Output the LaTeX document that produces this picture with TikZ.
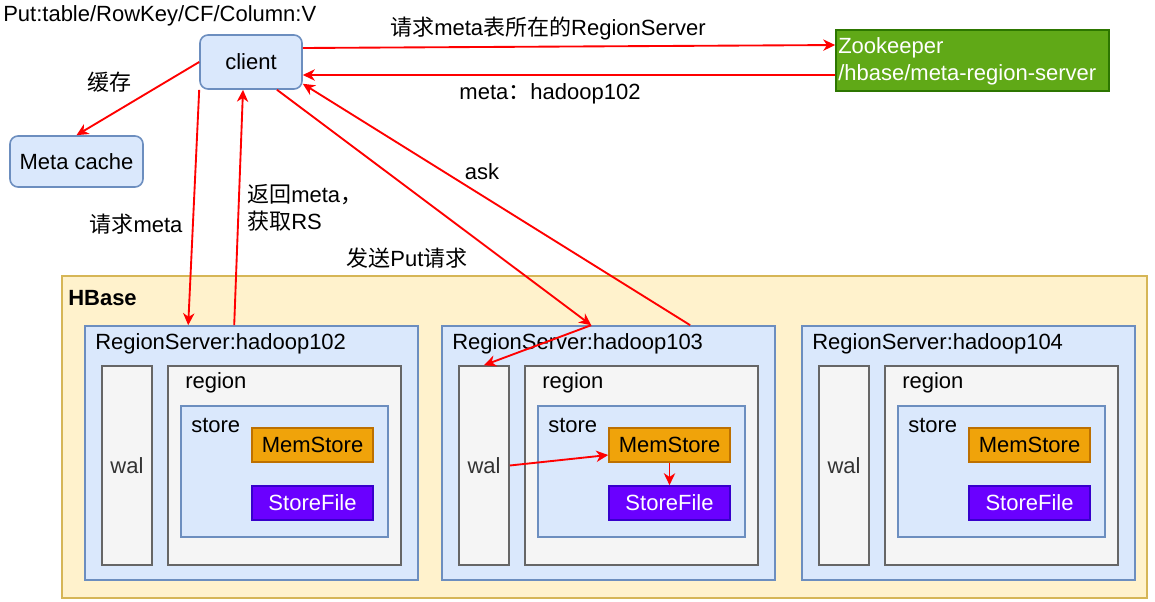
\documentclass[tikz,border=0pt]{standalone}
\usepackage{fontspec}
\setmainfont{Liberation Sans}
\newfontfamily\cjk{Noto Sans CJK SC}
\usetikzlibrary{arrows.meta,fit}
\definecolor{bluefill}{HTML}{DAE8FC}
\definecolor{blueline}{HTML}{6C8EBF}
\definecolor{grayfill}{HTML}{F5F5F5}
\definecolor{grayline}{HTML}{666666}
\definecolor{textgray}{HTML}{333333}
\definecolor{hbfill}{HTML}{FFF2CC}
\definecolor{hbline}{HTML}{D6B656}
\definecolor{memfill}{HTML}{F0A30A}
\definecolor{memline}{HTML}{BD7000}
\definecolor{sffill}{HTML}{6A00FF}
\definecolor{sfline}{HTML}{3700CC}
\definecolor{zkfill}{HTML}{60A917}
\definecolor{zkline}{HTML}{2D7600}
\definecolor{arrred}{HTML}{FF0000}
\newcommand\fsz{\fontsize{16.5}{20.25}\selectfont}
\begin{document}
\begin{tikzpicture}[x=0.75pt,y=-0.75pt,
  every node/.style={font=\fsz, inner sep=0pt, text=black},
  bluebox/.style={draw=blueline, fill=bluefill, line width=1.2pt},
  graybox/.style={draw=grayline, fill=grayfill, line width=1.2pt},
  membox/.style={draw=memline, fill=memfill, line width=1.2pt},
  sfbox/.style={draw=sfline, fill=sffill, line width=1.2pt},
  arr/.style={draw=arrred, line width=1.4pt, -{Stealth[length=9pt,width=8.5pt,inset=2.8pt]}},
]
\useasboundingbox (0,0) rectangle (1155,602);

% HBase container
\node[draw=hbline, fill=hbfill, line width=1.2pt, fit={(62,276)(1147,598)}] (hbase) {};
\node[anchor=base west, font=\fsz\bfseries] (hbaselbl) at (68,305) {HBase};

\foreach \L/\n in {85/102,442/103,802/104}{
  \node[bluebox, fit={(\L,326)(\L+333,580)}] (rs\n) {};
  \node[anchor=base west] (rslbl\n) at (\L+10,349) {RegionServer:hadoop\n};
  \node[graybox, fit={(\L+17,366)(\L+67,565)}] (wal\n) {};
  \node[text=textgray] (waltxt\n) at (wal\n.center) {wal};
  \node[graybox, fit={(\L+83,366)(\L+316,565)}] (region\n) {};
  \node[anchor=base west] (regionlbl\n) at (\L+100,388) {region};
  \node[bluebox, fit={(\L+96,406)(\L+303,537)}] (store\n) {};
  \node[anchor=base west] (storelbl\n) at (\L+106,432) {store};
  \node[membox, fit={(\L+167,428)(\L+288,462)}] (mem\n) {};
  \node (memtxt\n) at (mem\n.center) {MemStore};
  \node[sfbox, fit={(\L+167,486)(\L+288,520)}] (sf\n) {};
  \node[text=white] (sftxt\n) at (sf\n.center) {StoreFile};
}

% top nodes
\node[bluebox, rounded corners=6pt, fit={(200,35)(302,89)}] (client) {};
\node (clienttxt) at (client.center) {client};
\node[bluebox, rounded corners=6pt, fit={(10,136)(143,187)}] (cache) {};
\node (cachetxt) at (cache.center) {Meta cache};
\node[draw=zkline, fill=zkfill, line width=1.2pt, fit={(836,30)(1109,91)}] (zk) {};
\node[anchor=west, align=left, text=white] (zktxt) at (838,61)
      {Zookeeper\\/hbase/meta-region-server};

% labels
\node[anchor=base west] (puttext) at (3,22) {Put:table/RowKey/CF/Column:V};
\node (cachelbl) at (109,82) {\cjk 缓存};
\node (reqmeta) at (136,224) {{\cjk 请求}meta};
\node[anchor=west, align=left] (retmeta) at (247,208) {{\cjk 返回}meta{\cjk ，}\\{\cjk 获取}RS};
\node (sendput) at (407,258) {{\cjk 发送}Put{\cjk 请求}};
\node[anchor=base] (asklbl) at (482,180) {ask};
\node (reqzk) at (548,29) {{\cjk 请求}meta{\cjk 表所在的}RegionServer};
\node (metaret) at (550,94) {meta{\cjk ：}hadoop102};

% connectors
\draw[arr] ([yshift=10.5pt]client.east) -- ([yshift=11.6pt]zk.west);
\draw[arr] ([yshift=-10.9pt]zk.west) -- ([yshift=-9.75pt]client.east);
\draw[arr] (client.west) -- (cache.north);
\draw[arr] (client.south west) -- ([xshift=78pt]rs102.north west);
\draw[arr] ([xshift=112.5pt]rs102.north west) -- ([xshift=-6pt]client.south);
\coordinate (hit) at ([xshift=112.5pt]rs103.north west);
\draw[arr] ([xshift=19.5pt]client.south) -- (hit);
\draw[arr] (hit) -- (wal103.north);
\draw[arr] ([xshift=186.75pt]rs103.north west) -- ([yshift=4.5pt]client.south east);
\draw[arr] (wal103.east) -- ([yshift=-7.5pt]mem103.west);
\draw[arr] (mem103.south) -- (sf103.north);
\end{tikzpicture}
\end{document}
